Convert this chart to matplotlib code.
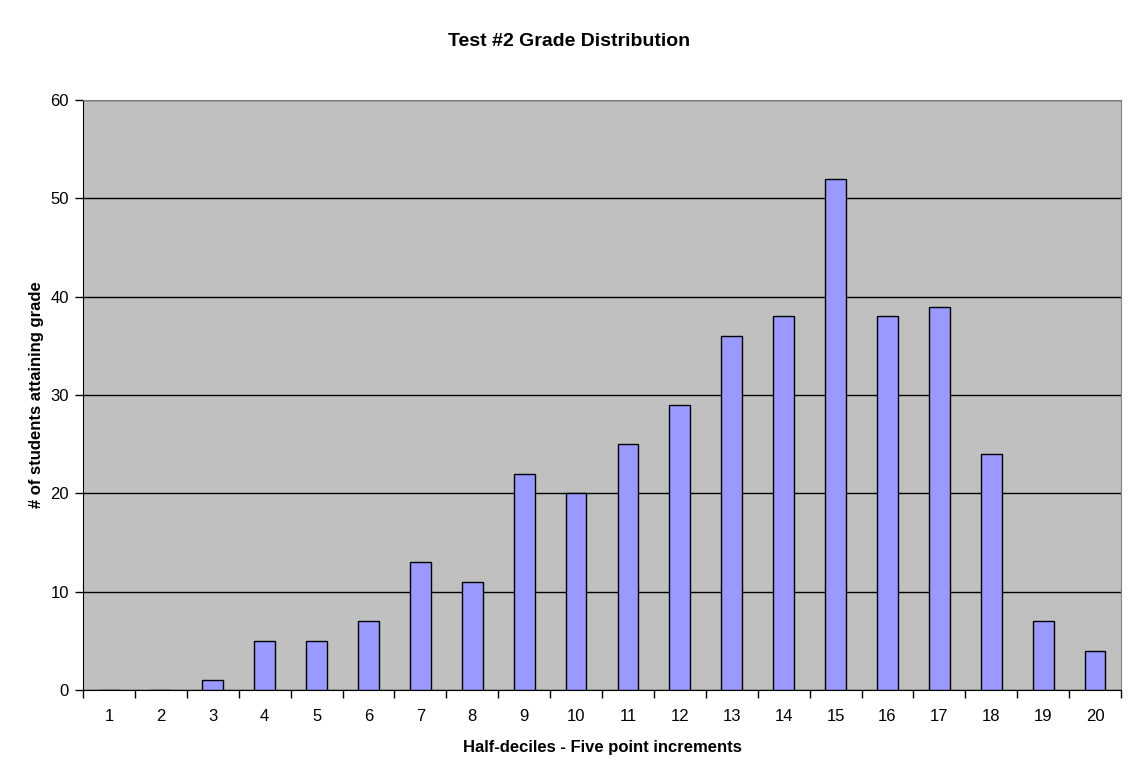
import numpy as np
import matplotlib.pyplot as plt

plt.rcParams['font.family'] = ['Liberation Sans', 'DejaVu Sans']

# Half-decile bins and number of students in each
bins = list(range(1, 21))
counts = [0, 0, 1, 5, 5, 7, 13, 11, 22, 20, 25, 29, 36, 38, 52, 38, 39, 24, 7, 4]

fig = plt.figure(figsize=(11.39, 7.79), dpi=100)
ax = fig.add_axes([83 / 1139, 89 / 779, 1038 / 1139, 590 / 779])
ax.set_facecolor('#C0C0C0')

x = np.arange(len(bins))
ax.bar(x, counts, width=0.4, color='#9999FF', edgecolor='black', linewidth=1, zorder=3)

ax.set_xlim(-0.5, len(bins) - 0.5)
ax.set_ylim(0, 60)
ax.set_yticks(range(0, 61, 10))
ax.yaxis.grid(True, color='black', linewidth=1, zorder=1)
ax.set_axisbelow(True)

# category labels centred, tick marks on the boundaries
ax.set_xticks(x)
ax.set_xticklabels([str(b) for b in bins], fontsize=12)
ax.set_xticks(np.arange(-0.5, len(bins), 1), minor=True)
ax.tick_params(axis='x', which='major', length=0, pad=14)
ax.tick_params(axis='x', which='minor', length=6, width=1, direction='out')
ax.tick_params(axis='y', length=6, width=1, labelsize=12, pad=4)

for s in ['top', 'right']:
    ax.spines[s].set_color('#808080')
for s in ['left', 'bottom']:
    ax.spines[s].set_color('black')

ax.set_xlabel('Half-deciles - Five point increments', fontsize=12, fontweight='bold', labelpad=11)
ax.set_ylabel('# of students attaining grade', fontsize=12, fontweight='bold', labelpad=5)
fig.text(0.5, 1 - 41 / 779, 'Test #2 Grade Distribution', ha='center', va='center',
         fontsize=14, fontweight='bold')

fig.savefig('out.png', dpi=100)
